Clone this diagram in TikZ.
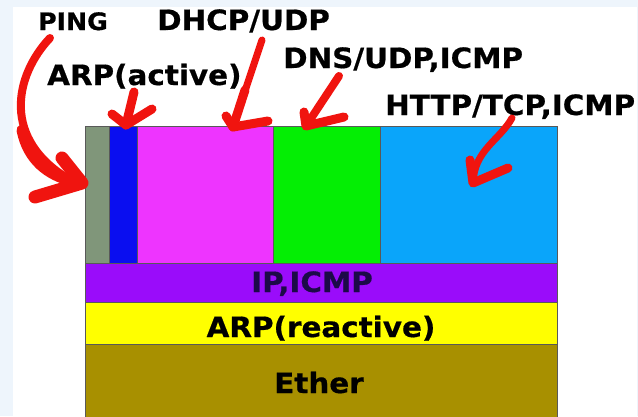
\documentclass[tikz,border=0pt]{standalone}
\usepackage{fontspec}
\setmainfont{DejaVu Sans}[FakeStretch=1.05,FakeBold=0.6]
\definecolor{pagebg}{RGB}{238,245,252}
\definecolor{pingc}{RGB}{128,150,122}
\definecolor{arpac}{RGB}{10,14,240}
\definecolor{dhcpc}{RGB}{238,52,255}
\definecolor{dnsc}{RGB}{4,238,4}
\definecolor{httpc}{RGB}{10,165,250}
\definecolor{ipc}{RGB}{154,12,250}
\definecolor{arprc}{RGB}{255,255,0}
\definecolor{etherc}{RGB}{168,144,0}
\definecolor{inktext}{RGB}{28,10,72}
\definecolor{penred}{RGB}{240,20,15}
\tikzset{
  layer/.style={draw=black!65, line width=0.6pt, anchor=north west,
    inner sep=0pt, outer sep=0pt},
  lbl/.style={font=\bfseries\fontsize{28}{30}\selectfont, inner sep=0pt, anchor=base west},
  inlbl/.style={font=\bfseries\fontsize{28}{30}\selectfont, inner sep=0pt, anchor=base},
  pen/.style={draw=penred, line cap=round, line join=round}
}
\begin{document}
\begin{tikzpicture}[x=1pt,y=-1pt]
  % page background and white sheet
  \fill[pagebg] (0,0) rectangle (638,416);
  \fill[white] (13,7) rectangle (637,416);
  \useasboundingbox (0,0) rectangle (638,416);

  % protocol stack, bottom layers
  \node[layer, fill=etherc, minimum width=472pt, minimum height=76pt] (ether) at (85,344) {};
  \node[layer, fill=arprc, minimum width=472pt, minimum height=42pt] (arpr) at (85,302) {};
  \node[layer, fill=ipc, minimum width=472pt, minimum height=39pt] (ip) at (85,263) {};
  % application row
  \node[layer, fill=pingc, minimum width=24pt, minimum height=137pt] (pingbox) at (85,126) {};
  \node[layer, fill=arpac, minimum width=28pt, minimum height=137pt] (arpabox) at (109,126) {};
  \node[layer, fill=dhcpc, minimum width=136pt, minimum height=137pt] (dhcpbox) at (137,126) {};
  \node[layer, fill=dnsc, minimum width=107pt, minimum height=137pt] (dnsbox) at (273,126) {};
  \node[layer, fill=httpc, minimum width=177pt, minimum height=137pt] (httpbox) at (380,126) {};

  % layer names
  \node[inlbl, text=inktext] (iplbl) at (312,292) {IP,ICMP};
  \node[inlbl] (arprlbl) at (321,337) {ARP(reactive)};
  \node[inlbl] (etherlbl) at (319,393) {Ether};

  % protocol labels above the stack
  \node[lbl, font=\bfseries\fontsize{24}{26}\selectfont] (ping) at (38,30) {PING};
  \node[lbl] (dhcp) at (157,30) {DHCP/UDP};
  \node[lbl] (arpa) at (47,85) {ARP(active)};
  \node[lbl] (dns) at (283,68) {DNS/UDP,ICMP};
  \node[lbl] (http) at (385,115) {HTTP/TCP,ICMP};

  % hand-drawn pointers
  \coordinate (pingtip) at (82,183);
  \coordinate (arpatip) at (126,125);
  \coordinate (dhcptip) at (233,127);
  \coordinate (dnstip) at (306,126);
  \coordinate (httptip) at (473,183);

  % PING
  \draw[pen, line width=8pt] (50,38) .. controls (15,75) and (0,140) .. (72,181);
  \draw[pen, line width=11pt] (22,130) .. controls (28,160) and (48,175) .. (72,181);
  \draw[pen, line width=13pt] (62,158) -- (pingtip) -- (35,197);
  % ARP(active)
  \draw[pen, line width=9pt] (134,92) -- (arpatip);
  \draw[pen, line width=9pt] (112,114) -- (arpatip) -- (152,109);
  % DHCP/UDP
  \draw[pen, line width=7pt] (262,40) -- (dhcptip);
  \draw[pen, line width=9pt] (245,90) -- (dhcptip);
  \draw[pen, line width=9pt] (226,116) -- (dhcptip) -- (268,121);
  % DNS/UDP,ICMP
  \draw[pen, line width=8pt] (339,76) -- (dnstip);
  \draw[pen, line width=9pt] (304,112) -- (dnstip) -- (344,117);
  % HTTP/TCP,ICMP
  \draw[pen, line width=7pt] (512,118) .. controls (500,140) and (474,150) .. (httptip);
  \draw[pen, line width=9pt] (470,160) -- (httptip) -- (508,168);
\end{tikzpicture}
\end{document}
